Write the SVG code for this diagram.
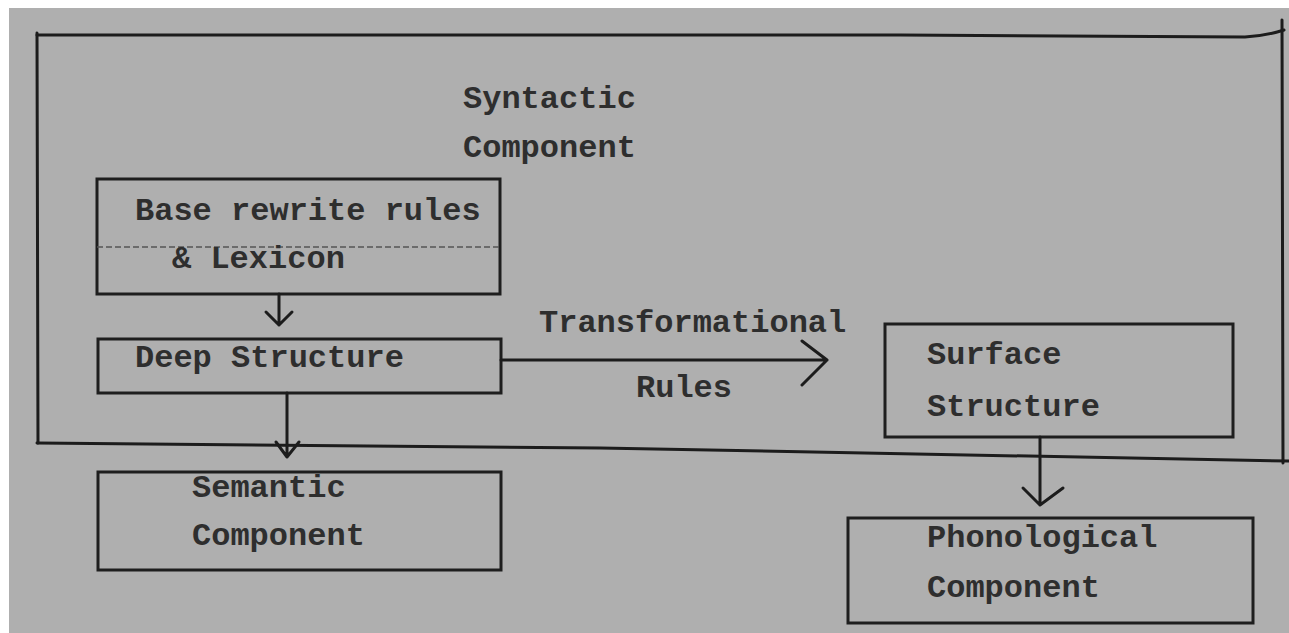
<svg xmlns="http://www.w3.org/2000/svg" width="1289" height="633" viewBox="0 0 1289 633">
  <defs>
    <style>
      .ln { fill: none; stroke: #1c1c1c; stroke-width: 3; stroke-linecap: round; stroke-linejoin: round; }
      .box { fill: none; stroke: #1e1e1e; stroke-width: 3; }
      .t { font-family: "Liberation Mono", "Courier New", monospace; font-size: 32px; font-weight: bold; fill: #2e2e2e; }
    </style>
  </defs>
  <rect x="0" y="0" width="1289" height="633" fill="#ffffff"/>
  <rect x="9" y="8" width="1280" height="625" fill="#afafaf"/>

  <g id="syntactic-component">
    <path class="ln" d="M37,35 L900,35 L1245,37 Q1265,36 1284,30"/>
    <path class="ln" d="M37,33 L38,443"/>
    <path class="ln" d="M1282,20 L1283,463"/>
    <path class="ln" d="M37,443 L600,448 L1289,461"/>
    <text class="t" x="463" y="108">Syntactic</text>
    <text class="t" x="463" y="157">Component</text>
  </g>

  <g id="base-rules">
    <rect class="box" x="97" y="179" width="403" height="115"/>
    <line x1="97" y1="247" x2="500" y2="247" stroke="#555" stroke-width="1.5" stroke-dasharray="6,3"/>
    <text class="t" x="135" y="220">Base rewrite rules</text>
    <text class="t" x="172" y="268">&amp; Lexicon</text>
  </g>

  <g id="deep-structure">
    <rect class="box" x="98" y="339" width="403" height="54"/>
    <text class="t" x="135" y="367">Deep Structure</text>
  </g>

  <g id="semantic-component">
    <rect class="box" x="98" y="472" width="403" height="98"/>
    <text class="t" x="192" y="497">Semantic</text>
    <text class="t" x="192" y="545">Component</text>
  </g>

  <g id="surface-structure">
    <rect class="box" x="885" y="324" width="348" height="113"/>
    <text class="t" x="927" y="364">Surface</text>
    <text class="t" x="927" y="416">Structure</text>
  </g>

  <g id="phonological-component">
    <rect class="box" x="848" y="518" width="405" height="105"/>
    <text class="t" x="927" y="547">Phonological</text>
    <text class="t" x="927" y="597">Component</text>
  </g>

  <g id="connectors">
    <path class="ln" d="M279,294 L279,325 M266,312 L279,325 L292,312"/>
    <path class="ln" d="M501,360 L827,360 M802,341 L827,360 L802,385"/>
    <path class="ln" d="M287,393 L287,457 M276,442 L287,457 L299,442"/>
    <path class="ln" d="M1040,437 L1040,505 M1023,488 L1040,505 L1063,488"/>
    <text class="t" x="539" y="332">Transformational</text>
    <text class="t" x="636" y="397">Rules</text>
  </g>
</svg>
